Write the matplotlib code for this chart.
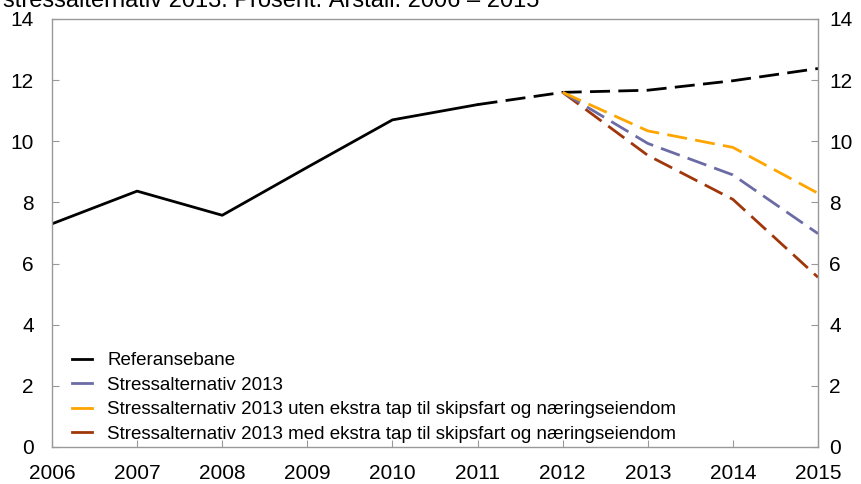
import matplotlib
matplotlib.use("Agg")
import matplotlib.pyplot as plt
from matplotlib.lines import Line2D

plt.rcParams['font.family'] = ['Liberation Sans', 'DejaVu Sans']

years_hist = [2006, 2007, 2008, 2009, 2010, 2011]
ref_hist = [7.3, 8.37, 7.58, 9.15, 10.7, 11.2]
years_proj = [2011, 2012, 2013, 2014, 2015]
ref_proj = [11.2, 11.6, 11.67, 11.98, 12.38]
years_stress = [2012, 2013, 2014, 2015]
stress = [11.6, 9.93, 8.9, 6.98]
stress_uten = [11.6, 10.34, 9.8, 8.3]
stress_med = [11.6, 9.54, 8.1, 5.55]

labels = ["Referansebane", "Stressalternativ 2013",
          "Stressalternativ 2013 uten ekstra tap til skipsfart og næringseiendom",
          "Stressalternativ 2013 med ekstra tap til skipsfart og næringseiendom"]
colors = ["#000000", "#6B6BA6", "#FFA500", "#A0370A"]
title = "stressalternativ 2013. Prosent. Årstall. 2006 – 2015"

W, H = 862, 484
fig = plt.figure(figsize=(W/100, H/100), dpi=100)
x0, x1, y0, y1 = 52, 818, 19, 447
ax = fig.add_axes([x0/W, 1 - y1/H, (x1-x0)/W, (y1-y0)/H])

lw = 2.0
dash = (0, (7.2, 3.0))
ax.plot(years_hist, ref_hist, color=colors[0], lw=lw)
ax.plot(years_proj, ref_proj, color=colors[0], lw=lw, linestyle=dash)
ax.plot(years_stress, stress_med, color=colors[3], lw=lw, linestyle=dash)
ax.plot(years_stress, stress, color=colors[1], lw=lw, linestyle=dash)
ax.plot(years_stress, stress_uten, color=colors[2], lw=lw, linestyle=dash)

ax.set_xlim(2006, 2015)
ax.set_ylim(0, 14)
ax.set_xticks(range(2006, 2016))
ax.set_yticks(range(0, 15, 2))
for s in ax.spines.values():
    s.set_color('#999999')
    s.set_linewidth(1.0)
ax.tick_params(axis='both', direction='in', color='#999999', length=5, labelsize=15)
ax.tick_params(axis='x', pad=12.5)
ax.tick_params(axis='y', pad=13)

ax2 = ax.twinx()
ax2.set_ylim(0, 14)
ax2.set_yticks(range(0, 15, 2))
for s in ax2.spines.values():
    s.set_visible(False)
ax2.tick_params(axis='y', direction='in', color='#999999', length=5, labelsize=15, pad=8)

handles = [Line2D([0], [0], color=c, lw=lw) for c in colors]
fs = 13.5
ax.legend(handles, labels, loc='lower left', frameon=False, fontsize=fs,
          handlelength=1.07, handletextpad=0.8, labelspacing=0.4,
          bbox_to_anchor=(20/(x1-x0), 4/(y1-y0)), borderaxespad=0, borderpad=0)

fig.text(0.003, 1 - 7/H, title, fontsize=17, va='baseline', ha='left')

fig.savefig("out.png", dpi=100)
